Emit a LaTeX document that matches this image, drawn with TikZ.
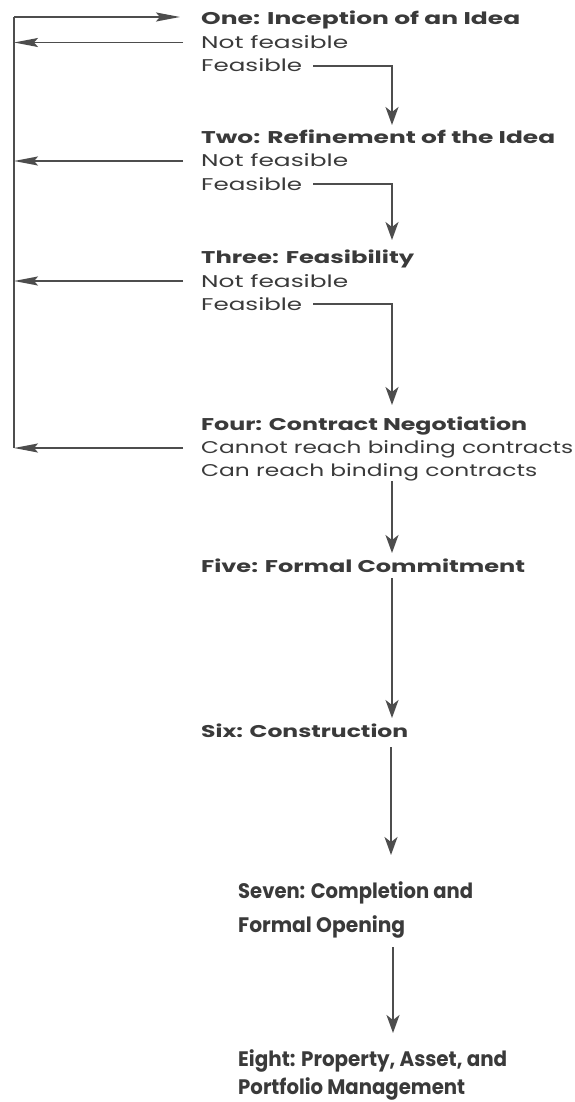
\documentclass[tikz,border=0pt]{standalone}
\usepackage{fontspec}
\setmainfont{Poppins}
\usetikzlibrary{arrows.meta}
\definecolor{ink}{HTML}{3A3A3A}
\definecolor{wirec}{HTML}{4D4D4D}
\newcommand{\fitw}[2]{\resizebox{#1}{\height}{#2}}
\begin{document}
\begin{tikzpicture}[x=1pt,y=-1pt,
  stage/.style={anchor=base west, inner sep=0pt, text=ink, font=\fontsize{17}{20}\selectfont\bfseries},
  opt/.style={anchor=base west, inner sep=0pt, text=ink, font=\fontsize{17}{20}\selectfont},
  big/.style={anchor=base west, inner sep=0pt, text=ink, font=\fontsize{21}{24}\selectfont\bfseries},
  wire/.style={draw=wirec, line width=1.8pt},
  harr/.style={wire, -{Stealth[length=24pt,width=9pt,inset=4pt]}},
  varr/.style={wire, -{Stealth[length=18pt,width=13pt,inset=5pt]}},
]
\useasboundingbox (0,0) rectangle (574,1102);
% stage texts
\node[stage] (one) at (201,25) {\fitw{319pt}{One: Inception of an Idea}};
\node[opt] (nf1) at (201,48.5) {\fitw{147pt}{Not feasible}};
\node[opt] (f1) at (201,72) {\fitw{101pt}{Feasible}};
\node[stage] (two) at (201,143) {\fitw{354pt}{Two: Refinement of the Idea}};
\node[opt] (nf2) at (201,167) {\fitw{147pt}{Not feasible}};
\node[opt] (f2) at (201,190) {\fitw{101pt}{Feasible}};
\node[stage] (three) at (201,263) {\fitw{213pt}{Three: Feasibility}};
\node[opt] (nf3) at (201,287) {\fitw{147pt}{Not feasible}};
\node[opt] (f3) at (201,310) {\fitw{101pt}{Feasible}};
\node[stage] (four) at (201,430) {\fitw{326pt}{Four: Contract Negotiation}};
\node[opt] (cannot) at (201,453) {\fitw{372pt}{Cannot reach binding contracts}};
\node[opt] (can) at (201,476) {\fitw{336pt}{Can reach binding contracts}};
\node[stage] (five) at (201,572) {\fitw{324pt}{Five: Formal Commitment}};
\node[stage] (six) at (201,737) {\fitw{207pt}{Six: Construction}};
\node[big] (seven) at (238,898) {\fitw{235pt}{Seven: Completion and}};
\node[big] (seven2) at (238,932) {\fitw{167pt}{Formal Opening}};
\node[big] (eight) at (238,1066) {\fitw{269pt}{Eight: Property, Asset, and}};
\node[big] (eight2) at (238,1094) {\fitw{227pt}{Portfolio Management}};
% coordinates
\coordinate (bt) at (14,17);
\coordinate (bb) at (14,448);
\coordinate (t2) at (392,125);
\coordinate (t3) at (392,240);
\coordinate (t4) at (392,405);
% feedback bus
\draw[wire] (bb) -- (bt);
\draw[harr] (bt) -- ([xshift=-21pt,yshift=8pt]one.base west);
\draw[harr] ([xshift=-18pt,yshift=6pt]nf1.base west) coordinate (s1) -- (s1 -| bt);
\draw[harr] ([xshift=-18pt,yshift=6pt]nf2.base west) coordinate (s2) -- (s2 -| bt);
\draw[harr] ([xshift=-18pt,yshift=6pt]nf3.base west) coordinate (s3) -- (s3 -| bt);
\draw[harr] ([xshift=-18pt,yshift=5pt]cannot.base west) coordinate (s4) -- (s4 -| bt);
% feasible paths
\draw[varr] ([xshift=11pt,yshift=6pt]f1.base east) -| (t2);
\draw[varr] ([xshift=11pt,yshift=6pt]f2.base east) -| (t3);
\draw[varr] ([xshift=11pt,yshift=6pt]f3.base east) -| (t4);
% lower chain
\coordinate (a1) at (392,481); \coordinate (a1e) at (392,553);
\coordinate (a2) at (392,578); \coordinate (a2e) at (392,718);
\coordinate (a3) at (391,747); \coordinate (a3e) at (391,855);
\coordinate (a4) at (393,947); \coordinate (a4e) at (393,1033);
\draw[varr] (a1) -- (a1e);
\draw[varr] (a2) -- (a2e);
\draw[varr] (a3) -- (a3e);
\draw[varr] (a4) -- (a4e);
\end{tikzpicture}
\end{document}
